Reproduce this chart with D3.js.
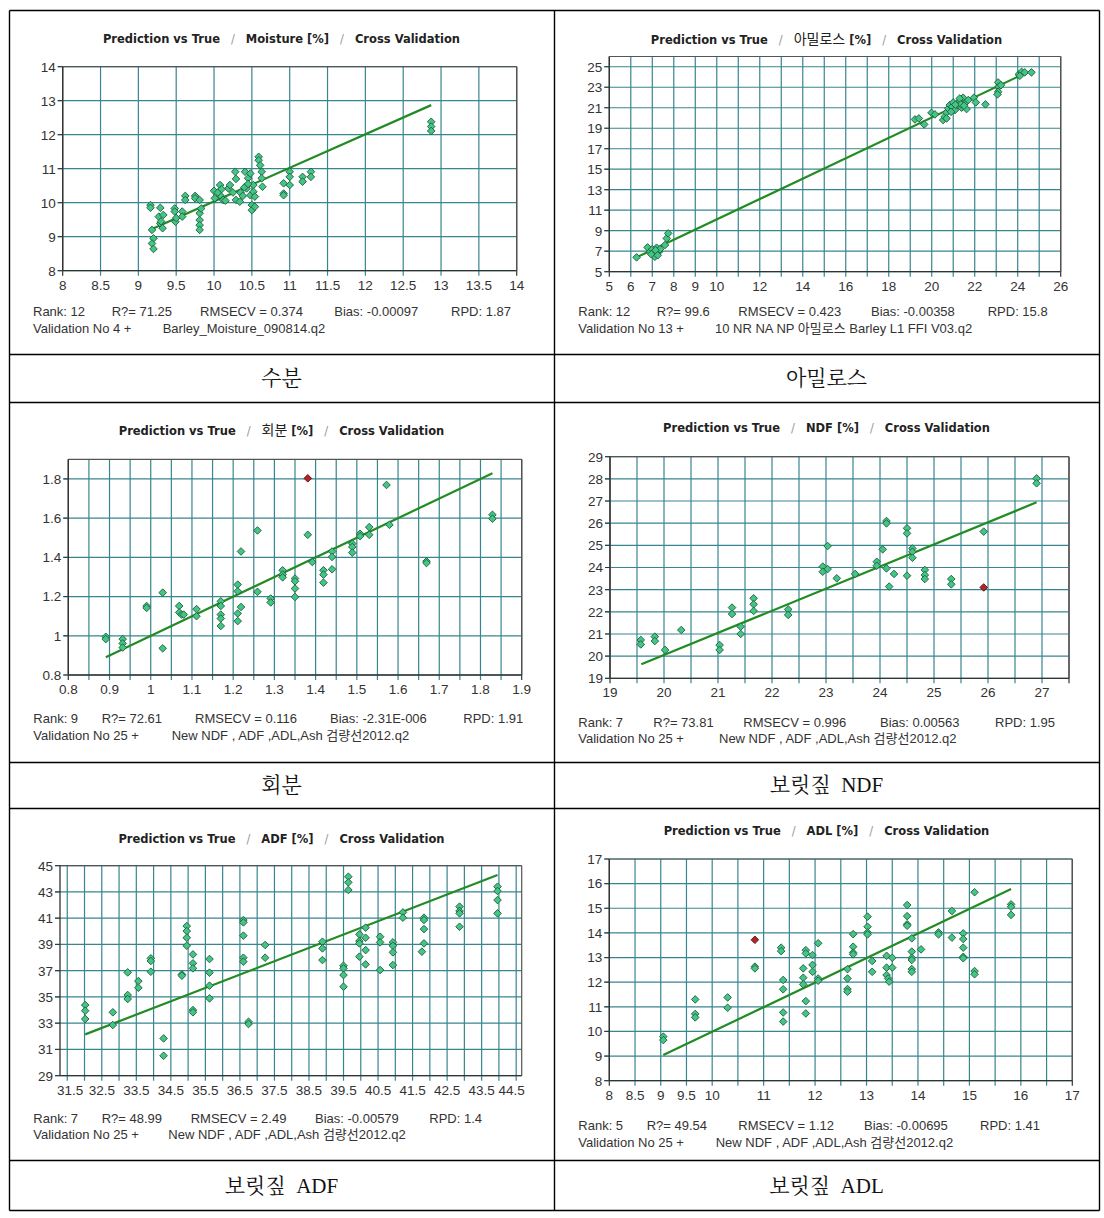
<!DOCTYPE html>
<html><head><meta charset="utf-8">
<script src="https://cdn.jsdelivr.net/npm/d3@7"></script>
<style>body{margin:0;background:#fff} text{white-space:pre}</style>
</head><body>
<svg id="c" width="1104" height="1218" xmlns="http://www.w3.org/2000/svg"></svg>
<script>
// ---------------- DATA ----------------
const moisturePoints = [[9.16,9.93],[9.16,9.85],[9.18,9.2],[9.2,8.95],[9.18,8.8],[9.2,8.64],
[9.29,9.85],[9.27,9.59],[9.29,9.39],[9.33,9.64],[9.32,9.25],[9.3,9.45],
[9.48,9.83],[9.48,9.74],[9.49,9.44],[9.5,9.55],[9.58,9.74],[9.58,9.59],
[9.62,10.2],[9.62,10.08],[9.75,10.2],[9.75,10.13],
[9.81,10.08],[9.81,9.69],[9.81,9.49],[9.81,9.34],[9.81,9.2],[9.83,9.83],
[10.0,10.35],[10.01,10.13],[10.08,10.52],[10.08,10.22],[10.12,10.08],
[10.15,10.06],[10.19,10.42],[10.21,10.52],[10.28,10.91],[10.29,10.7],[10.29,10.08],[10.34,10.03],
[10.41,10.91],[10.43,10.42],[10.45,10.72],[10.48,10.86],[10.48,10.22],[10.5,9.93],[10.5,9.78],[10.52,10.52],[10.52,10.32],[10.54,10.18],[10.54,9.88],
[10.35,10.3],[10.4,10.45],[10.38,10.2],[10.25,10.3],[10.05,10.3],[10.1,10.4],[10.45,10.55],
[10.59,11.35],[10.59,11.25],[10.61,11.1],[10.63,10.91],[10.63,10.72],[10.64,10.47],
[10.92,10.57],[10.92,10.27],[10.92,10.22],[11.0,10.91],[11.0,10.76],[11.0,10.52],
[11.17,10.76],[11.17,10.62],[11.28,10.91],[11.28,10.76],
[12.87,12.38],[12.87,12.24],[12.87,12.11]];
const moistureOutliers = [];
const moistureFit = [[9.15,9.2],[12.87,12.87]];

const amylosePoints = [[6.27,6.4],[6.78,7.37],[6.9,6.95],[7.0,7.2],[7.05,6.8],[7.12,6.46],[7.2,7.34],[7.31,6.95],[7.36,7.2],[6.95,6.7],[7.15,7.1],[7.25,6.6],
[7.59,7.6],[7.67,8.25],[7.74,8.74],
[19.22,19.86],[19.4,19.96],[19.65,19.37],[19.99,20.5],[20.15,20.35],
[20.53,19.8],[20.6,20.12],[20.69,20.54],[20.77,20.93],[20.84,21.26],[20.95,21.1],[21.0,21.52],[21.08,20.77],[21.2,21.26],[21.31,21.65],[21.39,21.0],[21.46,21.98],[21.54,21.42],[21.62,20.87],[21.7,21.75],[21.3,21.9],[21.36,21.33],[20.69,19.96],[20.9,20.6],[21.1,21.3],[21.5,21.2],
[21.96,21.98],[22.05,21.52],[22.5,21.33],
[23.09,23.47],[23.12,23.05],[23.09,22.56],[23.06,22.3],[23.22,23.2],
[24.05,24.25],[24.18,24.5],[24.33,24.45],[24.64,24.45],[24.1,24.12]];
const amyloseOutliers = [];
const amyloseFit = [[6.27,6.4],[24.33,24.35]];

const ashPoints = [[0.891,0.995],[0.891,0.983],[0.932,0.983],[0.932,0.961],[0.932,0.94],[0.99,1.152],[0.99,1.142],[1.029,1.22],[1.029,0.936],[1.069,1.152],[1.069,1.119],[1.075,1.108],[1.08,1.108],[1.111,1.136],[1.111,1.1],[1.17,1.176],[1.17,1.152],[1.17,1.108],[1.17,1.088],[1.17,1.05],[1.211,1.261],[1.211,1.227],[1.211,1.114],[1.211,1.075],[1.219,1.147],[1.219,1.43],[1.259,1.537],[1.259,1.224],[1.291,1.19],[1.291,1.17],[1.32,1.334],[1.32,1.312],[1.32,1.298],[1.35,1.292],[1.35,1.278],[1.35,1.241],[1.35,1.198],[1.381,1.515],[1.392,1.376],[1.419,1.334],[1.419,1.312],[1.419,1.271],[1.44,1.43],[1.44,1.402],[1.44,1.339],[1.489,1.47],[1.489,1.453],[1.489,1.424],[1.508,1.52],[1.508,1.508],[1.53,1.554],[1.53,1.515],[1.572,1.769],[1.579,1.566],[1.669,1.38],[1.669,1.371],[1.829,1.617],[1.829,1.597]];
const ashOutliers = [[1.381,1.803]];
const ashFit = [[0.891,0.89],[1.829,1.829]];

const ndfPoints = [[19.57,20.73],[19.57,20.53],[19.83,20.88],[19.83,20.68],[20.02,20.28],[20.32,21.18],[21.03,20.5],[21.03,20.28],[21.26,22.19],[21.26,21.9],[21.42,21.33],[21.42,21.0],[21.66,22.61],[21.66,22.34],[21.66,22.04],[22.3,22.11],[22.3,21.86],[22.94,24.04],[22.94,23.81],[23.03,24.97],[23.03,23.93],[23.2,23.51],[23.54,23.71],[24.05,24.82],[23.94,24.26],[23.94,24.08],[24.12,26.1],[24.12,25.99],[24.12,23.96],[24.17,23.14],[24.26,23.71],[24.5,25.77],[24.5,25.54],[24.5,23.63],[24.6,24.86],[24.6,24.71],[24.6,24.44],[24.83,23.89],[24.83,23.66],[24.83,23.48],[25.32,23.48],[25.32,23.24],[25.92,25.62],[26.9,28.02],[26.9,27.8]];
const ndfOutliers = [[25.92,23.1]];
const ndfFit = [[19.58,19.63],[26.9,26.94]];

const adfPoints = [[32.02,34.38],[32.02,33.95],[32.02,33.32],[32.82,33.83],[32.82,32.86],[33.25,36.87],[33.25,35.15],[33.25,34.84],[33.56,36.21],[33.56,35.7],[33.92,37.94],[33.92,37.74],[33.92,36.92],[34.29,31.84],[34.29,30.52],[34.82,36.72],[34.82,36.62],[34.96,40.4],[34.96,40.02],[34.96,39.51],[34.96,38.9],[35.14,38.24],[35.14,37.56],[35.14,37.18],[35.14,34.0],[35.14,33.83],[35.62,37.89],[35.62,36.85],[35.62,35.86],[35.62,34.89],[36.6,40.86],[36.6,40.68],[36.6,39.67],[36.6,37.99],[36.6,37.69],[36.75,33.11],[36.75,32.94],[37.23,38.96],[37.23,37.99],[38.89,39.21],[38.89,38.7],[38.89,37.81],[39.5,37.38],[39.5,37.18],[39.5,36.67],[39.5,35.78],[39.64,44.16],[39.64,43.73],[39.64,43.15],[39.96,39.77],[39.96,39.26],[39.96,39.08],[39.96,38.07],[40.14,40.28],[40.14,39.51],[40.14,38.57],[40.14,37.48],[40.56,39.59],[40.56,39.16],[40.56,37.05],[40.93,39.16],[40.93,38.9],[40.93,38.4],[40.93,37.43],[41.22,41.44],[41.22,41.04],[41.77,38.45],[41.83,41.04],[41.83,40.86],[41.83,40.17],[41.83,39.08],[42.86,41.88],[42.86,41.55],[42.86,41.37],[42.86,40.35],[43.96,43.4],[43.96,43.07],[43.96,42.38],[43.96,41.37]];
const adfOutliers = [];
const adfFit = [[32.02,32.15],[43.96,44.29]];

const adlPoints = [[9.05,9.79],[9.05,9.65],[9.67,11.3],[9.67,10.71],[9.67,10.57],[10.3,11.38],[10.3,10.96],[10.83,12.63],[10.83,12.56],[11.34,13.4],[11.34,13.26],[11.38,12.09],[11.38,11.71],[11.38,10.77],[11.38,10.4],[11.77,12.56],[11.77,12.18],[11.77,11.91],[11.82,13.3],[11.82,13.17],[11.82,11.23],[11.82,10.73],[11.95,13.1],[11.95,12.7],[11.95,12.42],[12.06,13.58],[12.06,12.15],[12.06,12.06],[12.63,12.53],[12.63,12.15],[12.63,11.72],[12.63,11.61],[12.74,13.95],[12.74,13.44],[12.74,13.2],[12.74,13.13],[13.02,14.66],[13.02,14.25],[13.02,14.02],[13.02,13.94],[13.11,12.86],[13.11,12.42],[13.39,13.07],[13.39,12.59],[13.39,12.29],[13.42,12.15],[13.44,12.02],[13.5,12.99],[13.5,12.59],[13.79,15.13],[13.79,14.68],[13.79,14.35],[13.79,14.29],[13.88,13.78],[13.88,13.24],[13.88,12.99],[13.88,12.9],[13.88,12.53],[13.88,12.42],[14.06,13.33],[14.4,14.02],[14.4,13.94],[14.66,14.89],[14.66,13.81],[14.88,13.98],[14.88,13.75],[14.88,13.4],[14.88,13.03],[14.88,12.97],[15.1,15.65],[15.1,12.45],[15.1,12.32],[15.81,15.16],[15.81,15.06],[15.81,14.73]];
const adlOutliers = [[10.83,13.72]];
const adlFit = [[9.05,9.04],[15.81,15.78]];

// tick labels
const moistureXLabels = [8,8.5,9,9.5,10,10.5,11,11.5,12,12.5,13,13.5,14];
const moistureYLabels = [8,9,10,11,12,13,14];
const amyloseXLabels = [5,6,7,8,9,10,12,14,16,18,20,22,24,26];
const amyloseYLabels = [5,7,9,11,13,15,17,19,21,23,25];
const ashXLabels = [0.8,0.9,1,1.1,1.2,1.3,1.4,1.5,1.6,1.7,1.8,1.9];
const ashYLabels = [0.8,1,1.2,1.4,1.6,1.8];
const ndfXLabels = [19,20,21,22,23,24,25,26,27];
const ndfYLabels = [19,20,21,22,23,24,25,26,27,28,29];
const adfXLabels = [31.5,32.5,33.5,34.5,35.5,36.5,37.5,38.5,39.5,40.5,41.5,42.5,43.5,44.5];
const adfYLabels = [29,31,33,35,37,39,41,43,45];
const adlXLabels = [8,8.5,9,9.5,10,11,12,13,14,15,16,17];
const adlYLabels = [8,9,10,11,12,13,14,15,16,17];

// titles (property name), stats and file lines
const propNames = ["Moisture","아밀로스","회분","NDF","ADF","ADL"];
const statsRows = [
 ["Rank: 12","R?= 71.25","RMSECV = 0.374","Bias: -0.00097","RPD: 1.87"],
 ["Rank: 12","R?= 99.6","RMSECV = 0.423","Bias: -0.00358","RPD: 15.8"],
 ["Rank: 9","R?= 72.61","RMSECV = 0.116","Bias: -2.31E-006","RPD: 1.91"],
 ["Rank: 7","R?= 73.81","RMSECV = 0.996","Bias: 0.00563","RPD: 1.95"],
 ["Rank: 7","R?= 48.99","RMSECV = 2.49","Bias: -0.00579","RPD: 1.4"],
 ["Rank: 5","R?= 49.54","RMSECV = 1.12","Bias: -0.00695","RPD: 1.41"]
];
const fileRows = [
 ["Validation No 4 +","Barley_Moisture_090814.q2"],
 ["Validation No 13 +","10 NR NA NP 아밀로스 Barley L1 FFI V03.q2"],
 ["Validation No 25 +","New NDF , ADF ,ADL,Ash 검량선2012.q2"],
 ["Validation No 25 +","New NDF , ADF ,ADL,Ash 검량선2012.q2"],
 ["Validation No 25 +","New NDF , ADF ,ADL,Ash 검량선2012.q2"],
 ["Validation No 25 +","New NDF , ADF ,ADL,Ash 검량선2012.q2"]
];
const captions = ["수분","아밀로스","회분","보릿짚  NDF","보릿짚  ADF","보릿짚  ADL"];

// ---------------- LAYOUT ----------------
const LEFT_CX = 281.5, RIGHT_CX = 826.5;
const panels = [
 {pts:moisturePoints, out:moistureOutliers, fit:moistureFit, xl:moistureXLabels, yl:moistureYLabels,
  xd:[8,14], yd:[8,14], xStep:0.5, yStep:1, box:{l:62.7,r:516.7,t:66.7,b:270.7}, cx:LEFT_CX, titleY:43,
  statsX:[33,111.7,200,334.3,451], fileX:[33,162.7], statsY:316, clamp:false},
 {pts:amylosePoints, out:amyloseOutliers, fit:amyloseFit, xl:amyloseXLabels, yl:amyloseYLabels,
  xd:[5,26], yd:[5,26], xStep:1, yStep:2, yStart:5, yEnd:25, box:{l:609.3,r:1060.7,t:56.5,b:271.7}, cx:RIGHT_CX, titleY:44,
  statsX:[578.3,656.7,738.3,871,987.7], fileX:[578.3,715], statsY:316, clamp:false},
 {pts:ashPoints, out:ashOutliers, fit:ashFit, xl:ashXLabels, yl:ashYLabels,
  xd:[0.8,1.9], yd:[0.8,1.9], xStep:0.05, yStep:0.2, yEnd:1.8, box:{l:68.3,r:521.7,t:459.3,b:675}, cx:LEFT_CX, titleY:435,
  statsX:[33.3,101.7,195,330,463.3], fileX:[33.3,171.7], statsY:723, clamp:false},
 {pts:ndfPoints, out:ndfOutliers, fit:ndfFit, xl:ndfXLabels, yl:ndfYLabels,
  xd:[19,27.5], yd:[19,29], xStep:0.5, yStep:1, box:{l:610,r:1069,t:456.7,b:678.3}, cx:RIGHT_CX, titleY:432,
  statsX:[578.3,653.3,743.3,880,995], fileX:[578.3,719], statsY:726.5, clamp:false},
 {pts:adfPoints, out:adfOutliers, fit:adfFit, xl:adfXLabels, yl:adfYLabels,
  xd:[31.29,44.66], yd:[29,45], xStep:0.5, xStart:31.5, yStep:2, box:{l:60,r:521.7,t:865.7,b:1075.7}, cx:LEFT_CX, titleY:842.5,
  statsX:[33.3,101.7,190.7,315,429.3], fileX:[33.3,168.3], statsY:1122.5, clamp:true},
 {pts:adlPoints, out:adlOutliers, fit:adlFit, xl:adlXLabels, yl:adlYLabels,
  xd:[8,17], yd:[8,17], xStep:0.5, yStep:1, box:{l:609.3,r:1072.3,t:859,b:1080.7}, cx:RIGHT_CX, titleY:835,
  statsX:[578.3,646.7,738.3,864,980], fileX:[578.3,715.7], statsY:1130, clamp:false}
];

const svg = d3.select("#c");
svg.append("rect").attr("width",1104).attr("height",1218).attr("fill","#fff");

const GRID = "#37868f";
const TICKFONT = "'Liberation Sans', Arial, sans-serif";
const diamond = "M0,-3.8L3.8,0L0,3.8L-3.8,0Z";

panels.forEach((p,i)=>{
  const g = svg.append("g");
  const B = p.box;
  const x = d3.scaleLinear().domain(p.xd).range([B.l,B.r]);
  const y = d3.scaleLinear().domain(p.yd).range([B.b,B.t]);
  g.append("rect").attr("x",B.l).attr("y",B.t).attr("width",B.r-B.l).attr("height",B.b-B.t).attr("fill","#fff");
  const eps=1e-9;
  const xs = p.xStart!==undefined ? p.xStart : p.xd[0];
  const xGrid = d3.range(Math.floor((p.xd[1]-xs)/p.xStep+1e-6)+1).map(k=>+(xs+k*p.xStep).toFixed(6)).filter(v=>v<=p.xd[1]+eps);
  const ys = p.yStart!==undefined ? p.yStart : p.yd[0];
  const ye = p.yEnd!==undefined ? p.yEnd : p.yd[1];
  const yGrid = d3.range(Math.floor((ye-ys)/p.yStep+1e-6)+1).map(k=>+(ys+k*p.yStep).toFixed(6)).filter(v=>v<=ye+eps);
  g.selectAll(".vg").data(xGrid).join("line")
    .attr("x1",d=>x(d)).attr("x2",d=>x(d)).attr("y1",B.t).attr("y2",B.b+5)
    .attr("stroke",d=>(Math.abs(x(d)-B.l)<1||Math.abs(x(d)-B.r)<1)?"#333":GRID).attr("stroke-width",1.2);
  g.selectAll(".hg").data(yGrid).join("line")
    .attr("x1",B.l-5).attr("x2",B.r).attr("y1",d=>y(d)).attr("y2",d=>y(d))
    .attr("stroke",GRID).attr("stroke-width",1.2);
  g.selectAll(".yt").data(yGrid).join("line")
    .attr("x1",B.l-5).attr("x2",B.l).attr("y1",d=>y(d)).attr("y2",d=>y(d)).attr("stroke","#333");
  // frame
  g.append("line").attr("x1",B.r).attr("x2",B.r).attr("y1",B.t).attr("y2",B.b).attr("stroke","#555").attr("stroke-width",1.2);
  g.append("line").attr("x1",B.l).attr("x2",B.r).attr("y1",B.t).attr("y2",B.t).attr("stroke","#555").attr("stroke-width",1.2);
  g.append("line").attr("x1",B.l).attr("x2",B.l).attr("y1",B.t).attr("y2",B.b).attr("stroke","#333").attr("stroke-width",1.3);
  g.append("line").attr("x1",B.l).attr("x2",B.r).attr("y1",B.b).attr("y2",B.b).attr("stroke","#333").attr("stroke-width",1.3);
  // y labels
  g.selectAll(".yl").data(p.yl).join("text")
    .attr("x",B.l-7).attr("y",d=>y(d)).attr("dy","0.36em").attr("text-anchor","end")
    .attr("font-family",TICKFONT).attr("font-size",13.5).attr("fill","#333").text(d=>String(d));
  // x labels
  const xt = g.selectAll(".xl").data(p.xl).join("text")
    .attr("x",d=>x(d)).attr("y",B.b+19).attr("text-anchor","middle")
    .attr("font-family",TICKFONT).attr("font-size",13.5).attr("fill","#333").text(d=>String(d));
  if(p.clamp){
    xt.each(function(d){
      const w=this.getComputedTextLength();
      let cx=x(d); cx=Math.max(cx,B.l+w/2-3); cx=Math.min(cx,B.r-w/2+3);
      d3.select(this).attr("x",cx);
    });
  }
  // fit line
  g.append("path").datum(p.fit).attr("d",d3.line().x(d=>x(d[0])).y(d=>y(d[1])))
    .attr("stroke","#238b23").attr("stroke-width",2.2).attr("fill","none");
  // points
  g.selectAll(".pt").data(p.pts).join("path").attr("d",diamond)
    .attr("transform",d=>`translate(${x(d[0])},${y(d[1])})`)
    .attr("fill","#44c585").attr("stroke","#1e5c3c").attr("stroke-width",0.9);
  g.selectAll(".ot").data(p.out).join("path").attr("d",diamond)
    .attr("transform",d=>`translate(${x(d[0])},${y(d[1])})`)
    .attr("fill","#b3232a").attr("stroke","#5a1010").attr("stroke-width",0.9);
  // title
  const t = g.append("text").attr("x",p.cx).attr("y",p.titleY).attr("text-anchor","middle")
    .attr("font-family","'DejaVu Sans', Verdana, sans-serif").attr("font-size",11.5).attr("fill","#222")
    .attr("xml:space","preserve");
  t.append("tspan").attr("font-weight","bold").text("Prediction vs True");
  t.append("tspan").attr("fill","#999").text("   /   ");
  const korean = /[\uac00-\ud7a3]/.test(propNames[i]);
  t.append("tspan").attr("font-weight",korean?"normal":"bold")
    .attr("font-family",korean?"'Noto Sans CJK KR', sans-serif":null)
    .attr("font-size",korean?14:null).text(propNames[i]);
  t.append("tspan").attr("font-weight","bold").text(" [%]");
  t.append("tspan").attr("fill","#999").text("   /   ");
  t.append("tspan").attr("font-weight","bold").text("Cross Validation");
  // stats
  statsRows[i].forEach((s,k)=>{
    g.append("text").attr("x",p.statsX[k]).attr("y",p.statsY).attr("font-family",TICKFONT+", 'Noto Sans CJK KR'")
      .attr("font-size",13).attr("fill","#333").text(s);
  });
  fileRows[i].forEach((s,k)=>{
    g.append("text").attr("x",p.fileX[k]).attr("y",p.statsY+16.5).attr("font-family",TICKFONT+", 'Noto Sans CJK KR'")
      .attr("font-size",13).attr("fill","#333").attr("xml:space","preserve").text(s);
  });
});

// captions
const capY = [385,792,1193];
captions.forEach((c,i)=>{
  svg.append("text").attr("x",i%2===0?LEFT_CX:RIGHT_CX).attr("y",capY[Math.floor(i/2)])
    .attr("text-anchor","middle").attr("font-family","'Liberation Serif', 'Noto Serif CJK KR', 'Noto Sans CJK KR', serif")
    .attr("font-size",21).attr("fill","#111").attr("xml:space","preserve").text(c);
});

// table lines
const T = {l:9.5,r:1099.5,t:10.5,b:1210.5,mid:554.5};
const hLines = [T.t,354.5,402.5,762.5,808.5,1160.5,T.b];
svg.selectAll(".hl").data(hLines).join("line").attr("x1",T.l).attr("x2",T.r).attr("y1",d=>d).attr("y2",d=>d)
  .attr("stroke","#000").attr("stroke-width",1.4);
svg.selectAll(".vl").data([T.l,T.mid,T.r]).join("line").attr("x1",d=>d).attr("x2",d=>d).attr("y1",T.t).attr("y2",T.b)
  .attr("stroke","#000").attr("stroke-width",1.4);
</script>
</body></html>
